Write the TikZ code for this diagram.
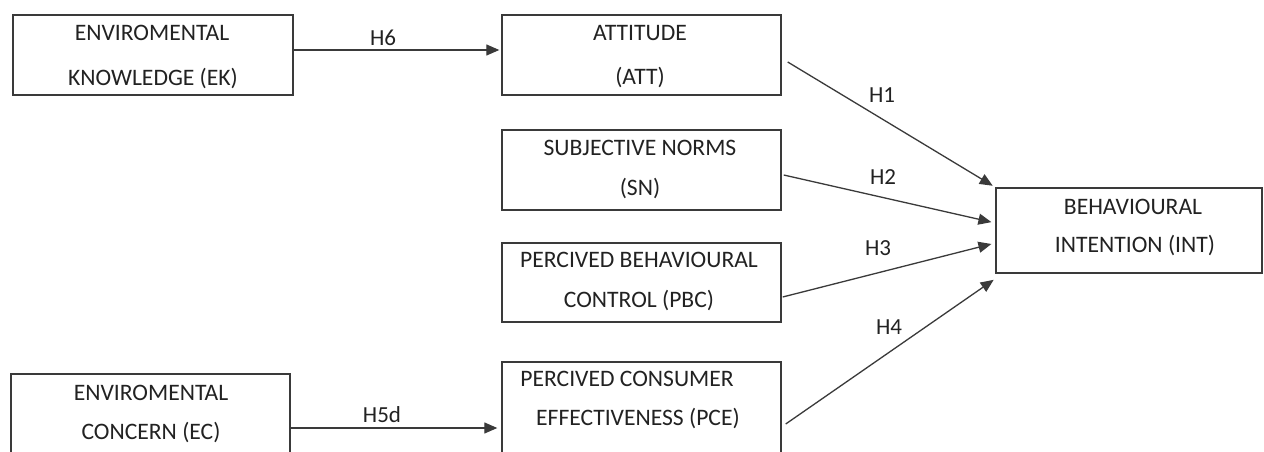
\documentclass[tikz,border=0pt]{standalone}
\usepackage{fontspec}
\setmainfont{Carlito}
\usetikzlibrary{arrows.meta}
\definecolor{ln}{HTML}{3A3A3A}
\definecolor{tx}{HTML}{222222}
\begin{document}
\begin{tikzpicture}[x=1pt,y=-1pt,
  box/.style={draw=ln, line width=1.4pt, inner sep=0pt},
  txt/.style={font=\fontsize{23.6}{28}\selectfont, text=tx, inner sep=0pt, text height=15.2pt, text depth=0pt},
  lbl/.style={font=\fontsize{23}{28}\selectfont, text=tx, inner sep=0pt, text height=14.8pt, text depth=0pt},
  arr/.style={draw=ln, line width=1.3pt, -{Triangle[length=13pt,width=11pt]}}]
\useasboundingbox (0,0) rectangle (1264,452);
\clip (0,0) rectangle (1264,452);
\fill[white] (0,0) rectangle (1264,452);

% boxes
\node[box, minimum width=280pt, minimum height=80pt]  (EK)  at (153,55) {};
\node[box, minimum width=279pt, minimum height=80pt]  (ATT) at (641.5,55) {};
\node[box, minimum width=279pt, minimum height=80pt]  (SN)  at (641.5,170) {};
\node[box, minimum width=279pt, minimum height=79pt]  (PBC) at (641.5,282.5) {};
\node[box, minimum width=266pt, minimum height=85pt]  (INT) at (1129,230.5) {};
\node[box, minimum width=279pt, minimum height=132pt] (PCE) at (641.5,428) {};
\node[box, minimum width=279pt, minimum height=108pt] (EC)  at (150.5,428) {};

% texts
\node[txt] (EK1)  at (152,33)  {ENVIROMENTAL};
\node[txt] (EK2)  at (153,78)  {KNOWLEDGE (EK)};
\node[txt] (ATT1) at (640,33)  {ATTITUDE};
\node[txt] (ATT2) at (640,77)  {(ATT)};
\node[txt] (SN1)  at (640,148) {SUBJECTIVE NORMS};
\node[txt] (SN2)  at (640,188) {(SN)};
\node[txt] (PBC1) at (639,260) {PERCIVED BEHAVIOURAL};
\node[txt] (PBC2) at (639,300) {CONTROL (PBC)};
\node[txt] (PCE1) at (627,379) {PERCIVED CONSUMER};
\node[txt] (PCE2) at (638,418) {EFFECTIVENESS (PCE)};
\node[txt] (EC1)  at (151,393) {ENVIROMENTAL};
\node[txt] (EC2)  at (151,432) {CONCERN (EC)};
\node[txt] (INT1) at (1133,207) {BEHAVIOURAL};
\node[txt] (INT2) at (1135,245) {INTENTION (INT)};

% connectors
\draw[arr, shorten >=2pt] ([yshift=5pt]EK.east) -- ([yshift=5pt]ATT.west);
\draw[arr, shorten >=3pt] ([xshift=6pt,yshift=-7pt]ATT.east) -- (INT.north west);
\draw[arr, shorten >=4pt] ([xshift=2pt,yshift=-5pt]SN.east) -- ([yshift=7.5pt]INT.west);
\draw[arr, shorten >=4pt] ([xshift=1pt,yshift=-14.5pt]PBC.east) -- ([yshift=-12.5pt]INT.west);
\draw[arr, shorten >=2pt] ([xshift=4pt,yshift=4pt]PCE.east) -- ([yshift=-5pt]INT.south west);
\draw[arr, shorten >=4pt] (EC.east) -- (PCE.west);

% labels
\node[lbl] (H6)  at (383,38)  {H6};
\node[lbl] (H1)  at (882,95)  {H1};
\node[lbl] (H2)  at (883,177) {H2};
\node[lbl] (H3)  at (878,248) {H3};
\node[lbl] (H4)  at (889,327) {H4};
\node[lbl] (H5d) at (382,415) {H5d};
\end{tikzpicture}
\end{document}
